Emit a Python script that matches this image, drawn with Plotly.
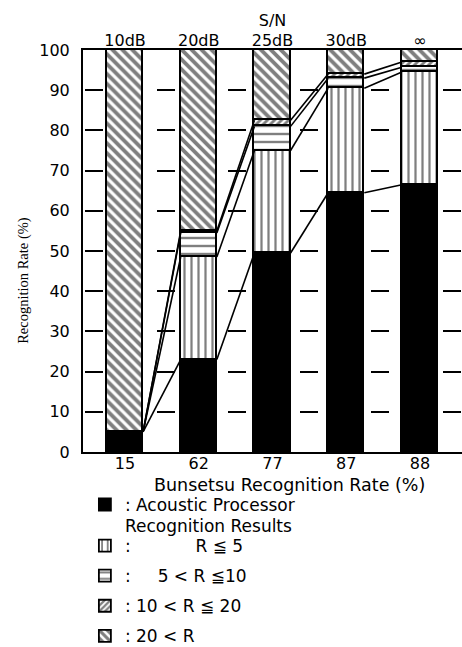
import plotly.graph_objects as go

# ---- data ----
bunsetsu_labels = ["15", "62", "77", "87", "88"]
sn_labels = ["10dB", "20dB", "25dB", "30dB", "∞"]
acoustic = [5, 23, 49.5, 64.5, 66.5]
r_le5 = [0, 25.5, 25.5, 26, 28]
r_5_10 = [0, 6, 6, 2.5, 1.2]
r_10_20 = [0, 0.5, 1.5, 1, 1.3]
r_gt20 = [95, 45, 17.5, 6, 3]

series_names = [
    ": Acoustic Processor",
    ":" + "\u00a0" * 12 + "R ≦ 5",
    ":" + "\u00a0" * 5 + "5 < R ≦10",
    ": 10 < R ≦ 20",
    ": 20 < R",
]
first_name_line2 = "Recognition Results"
series = [acoustic, r_le5, r_5_10, r_10_20, r_gt20]
legend_ids = ["legend", "legend2", "legend2", "legend2", "legend2"]

BAR_W = 0.49
xs = list(range(len(bunsetsu_labels)))

patterns = [
    dict(shape=""),
    dict(shape="|", size=7, solidity=0.32, fgcolor="black", bgcolor="white"),
    dict(shape="-", size=8, solidity=0.3, fgcolor="black", bgcolor="white"),
    dict(shape="/", size=5, solidity=0.55, fgcolor="black", bgcolor="white"),
    dict(shape="\\", size=7, solidity=0.55, fgcolor="black", bgcolor="white"),
]
colors = ["black", "white", "white", "white", "white"]

fig = go.Figure()
for i, (name, vals) in enumerate(zip(series_names, series)):
    fig.add_trace(go.Bar(
        x=xs, y=vals, name=name, width=BAR_W,
        marker=dict(color=colors[i], pattern=patterns[i],
                    line=dict(color="black", width=1.8)),
        legendgroup=f"g{i}", legend=legend_ids[i], showlegend=True,
    ))

# connecting lines between adjacent bars (cumulative tops)
cum = []
running = [0] * len(xs)
for vals in series[:-1]:
    running = [r + v for r, v in zip(running, vals)]
    cum.append(list(running))
for tops in cum:
    lx, ly = [], []
    for j in range(len(xs) - 1):
        lx += [xs[j] + BAR_W / 2, xs[j + 1] - BAR_W / 2, None]
        ly += [tops[j], tops[j + 1], None]
    fig.add_trace(go.Scatter(x=lx, y=ly, mode="lines",
                             line=dict(color="black", width=1.6),
                             showlegend=False, hoverinfo="skip"))

# invisible trace to activate top axis
fig.add_trace(go.Scatter(x=xs, y=[None] * len(xs), xaxis="x2",
                         showlegend=False, hoverinfo="skip"))

tick_font = dict(family="DejaVu Sans", size=16, color="black")
title_font = dict(family="DejaVu Sans", size=17.5, color="black")
leg_font = dict(family="DejaVu Sans", size=17, color="black")
leg1_font = dict(family="DejaVu Sans", size=17, color="black")

fig.update_layout(
    width=462, height=647,
    margin=dict(l=83, r=0, t=50, b=195, autoexpand=False),
    paper_bgcolor="white", plot_bgcolor="white",
    barmode="stack", bargap=0,
    showlegend=True,
    legend=dict(x=0.005, y=-0.087, xanchor="left", yanchor="top",
                font=leg1_font, traceorder="grouped", tracegroupgap=8,
                valign="top", bgcolor="rgba(0,0,0,0)"),
    legend2=dict(x=0.005, y=-0.189, xanchor="left", yanchor="top",
                 font=leg_font, traceorder="grouped", tracegroupgap=5,
                 valign="top", bgcolor="rgba(0,0,0,0)"),
    xaxis=dict(range=[-0.57, 4.57], tickvals=xs, ticktext=bunsetsu_labels,
               showgrid=False, zeroline=False, showline=True,
               linecolor="black", linewidth=2, ticks="", automargin=False,
               tickfont=tick_font, ticklabelstandoff=-4),
    xaxis2=dict(overlaying="x", side="top", matches="x",
                tickvals=xs, ticktext=sn_labels, showgrid=False,
                zeroline=False, showline=True, linecolor="black",
                linewidth=2, ticks="", tickfont=tick_font, automargin=False,
                ticklabelstandoff=-4,
                title=dict(text="S/N", font=tick_font, standoff=0)),
    yaxis=dict(range=[0, 100], tickvals=list(range(0, 101, 10)),
               showgrid=True, gridcolor="black", gridwidth=2,
               griddash="0px,2px,18px,51.5px", automargin=False,
               zeroline=False, showline=True, linecolor="black", linewidth=2,
               ticks="", tickfont=tick_font, ticklabelstandoff=8),
    annotations=[
        dict(text="Recognition Rate (%)", xref="paper", yref="paper",
             x=-0.156, y=0.428, xanchor="center", yanchor="middle",
             textangle=-90, showarrow=False,
             font=dict(family="Liberation Serif", size=14.5, color="black")),
        dict(text="Bunsetsu Recognition Rate (%)", xref="paper", yref="paper",
             x=0.545, y=-0.081, xanchor="center", yanchor="middle",
             showarrow=False, font=title_font),
        dict(text=first_name_line2, xref="paper", yref="paper",
             x=0.108, y=-0.184, xanchor="left", yanchor="middle",
             showarrow=False, borderpad=0, font=leg1_font),
    ],
)

fig.write_html("out.html",
               config={"displayModeBar": False},
               post_script="document.body.style.margin='0';"
                           "document.body.style.overflow='hidden';")
